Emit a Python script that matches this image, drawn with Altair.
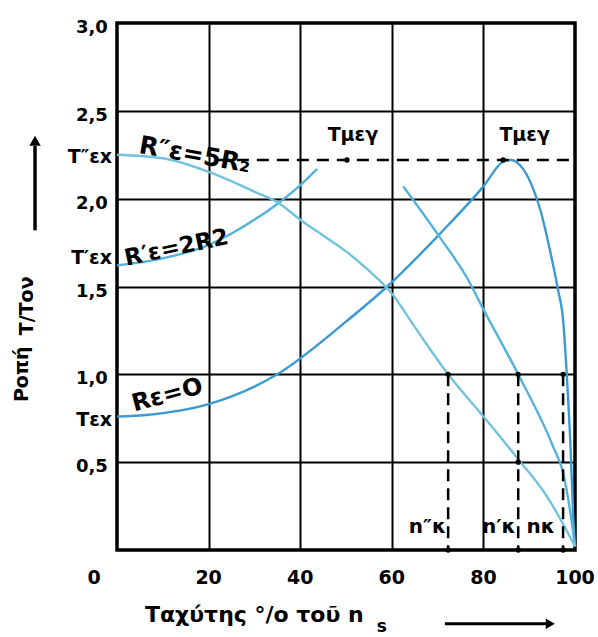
import altair as alt
import pandas as pd

# ---- curve data (speed % of n_s, T/Ton) ----
re0_x = [0, 7, 20, 35, 50, 59, 70.5, 80, 84.3, 86.0, 88.0, 90.5, 92.5, 94.5, 96.3, 97.4, 98.2, 99, 99.6, 100]
re0_y = [0.76, 0.77, 0.83, 1.0, 1.3, 1.5, 1.8, 2.07, 2.21, 2.22, 2.19, 2.08, 1.93, 1.71, 1.48, 1.31, 1.0, 0.6, 0.2, 0.02]

r2a_x = [0, 10, 20.3, 30, 35, 39.3, 43.7]
r2a_y = [1.62, 1.66, 1.74, 1.88, 1.97, 2.06, 2.17]
r2b_x = [62.5, 70.5, 76.4, 80, 87.6, 95.2, 97.4, 99.6, 100]
r2b_y = [2.07, 1.78, 1.55, 1.37, 1.0, 0.59, 0.44, 0.1, 0.02]

r5_x = [0, 10, 20.3, 30, 35.6, 40, 45, 50, 55, 60, 65, 72.3, 80, 87.5, 94, 99, 100]
r5_y = [2.25, 2.23, 2.15, 2.04, 1.97, 1.88, 1.79, 1.7, 1.59, 1.46, 1.27, 1.0, 0.76, 0.52, 0.3, 0.07, 0.02]

t_max = 2.22
tmax_x = [50.2, 84.3]
nk_x = [72.3, 87.6, 97.4]
nk_labels = ["n″κ", "n′κ", "nκ"]
nk_label_x = [67.8, 83.4, 92.5]

x_ticks = [0, 20, 40, 60, 80, 100]
x_tick_labels = ["0", "20", "40", "60", "80", "100"]
y_ticks = [3.0, 2.5, 2.0, 1.5, 1.0, 0.5]
y_tick_labels = ["3,0", "2,5", "2,0", "1,5", "1,0", "0,5"]
start_labels = ["T″εx", "T′εx", "Tεx"]
start_vals = [2.24, 1.66, 0.74]

rows = []
for name, xs, ys in [("re0", re0_x, re0_y), ("r2a", r2a_x, r2a_y),
                     ("r2b", r2b_x, r2b_y), ("r5", r5_x, r5_y)]:
    for i, (a, b) in enumerate(zip(xs, ys)):
        rows.append({"seg": name, "x": a, "y": b, "o": i})
curves = pd.DataFrame(rows)

X = alt.Scale(domain=[0, 100], nice=False, zero=False)
Y = alt.Scale(domain=[0, 3], nice=False, zero=False)

base_axis_x = alt.Axis(values=[20, 40, 60, 80], labels=False, ticks=False, domain=False,
                       grid=True, gridColor="black", gridWidth=2, gridOpacity=1, title=None)
base_axis_y = alt.Axis(values=[0.5, 1.0, 1.5, 2.0, 2.5], labels=False, ticks=False, domain=False,
                       grid=True, gridColor="black", gridWidth=2, gridOpacity=1, title=None)

lines = alt.Chart(curves).mark_line(interpolate="monotone", strokeWidth=2.4).encode(
    x=alt.X("x:Q", scale=X, axis=base_axis_x),
    y=alt.Y("y:Q", scale=Y, axis=base_axis_y),
    detail="seg:N",
    order="o:Q",
    color=alt.Color("seg:N", legend=None,
                    scale=alt.Scale(domain=["re0", "r2a", "r2b", "r5"],
                                    range=["#3b9bd0", "#55b3da", "#55b3da", "#72c3df"])),
)

# dashed Tmax line
hdash = alt.Chart(pd.DataFrame({"x": [21.8], "x2": [100], "y": [t_max]})).mark_rule(
    color="black", strokeWidth=2.5, strokeDash=[12, 8]).encode(
    x=alt.X("x:Q", scale=X), x2="x2:Q", y=alt.Y("y:Q", scale=Y))

# dashed vertical lines at n_k
vdash = alt.Chart(pd.DataFrame({"x": nk_x, "y": [1.0] * 3, "y2": [0.0] * 3})).mark_rule(
    color="black", strokeWidth=2.5, strokeDash=[12, 7]).encode(
    x=alt.X("x:Q", scale=X), y=alt.Y("y:Q", scale=Y), y2="y2:Q")

dots = alt.Chart(pd.DataFrame({
    "x": tmax_x + nk_x + nk_x + [87.6],
    "y": [t_max, t_max] + [1.0] * 3 + [0.0] * 3 + [0.5]})).mark_circle(
    color="black", size=28, opacity=1).encode(x=alt.X("x:Q", scale=X), y=alt.Y("y:Q", scale=Y))

FONT = "DejaVu Sans"

def texts(df, size=18, align="center", angle=0, baseline="middle", dx=0, dy=0, weight="bold"):
    kw = dict(font=FONT, fontSize=size, align=align, baseline=baseline, color="black",
              dx=dx, dy=dy, fontWeight=weight)
    if angle:
        kw["angle"] = angle
    return alt.Chart(df).mark_text(**kw).encode(
        x=alt.X("x:Q", scale=X), y=alt.Y("y:Q", scale=Y), text="t:N")

xt = texts(pd.DataFrame({"x": [-5.0] + x_ticks[1:], "y": [-0.16] * 6, "t": x_tick_labels}), size=19)
yt = texts(pd.DataFrame({"x": [-2.0] * 6, "y": y_ticks, "t": y_tick_labels}), size=18,
           align="right", dy=5)
st = texts(pd.DataFrame({"x": [-1.1] * 3, "y": start_vals, "t": start_labels}), size=19, align="right")

tm = texts(pd.DataFrame({"x": [51.5, 89.0], "y": [2.36, 2.36], "t": ["Tμεγ", "Tμεγ"]}), size=19)
nk = texts(pd.DataFrame({"x": nk_label_x, "y": [0.13] * 3, "t": nk_labels}), size=20)

lab5 = texts(pd.DataFrame({"x": [17.0], "y": [2.25], "t": ["R″ε=5R₂"]}), size=25, angle=10)
lab2 = texts(pd.DataFrame({"x": [13.0], "y": [1.72], "t": ["R′ε=2R2"]}), size=23, angle=348)
lab0 = texts(pd.DataFrame({"x": [11.0], "y": [0.88], "t": ["Rε=O"]}), size=24, angle=345)

xtitle = texts(pd.DataFrame({"x": [6.1], "y": [-0.37], "t": ["Ταχύτης °/ο τοῦ n"]}), size=22, align="left")
xsub = texts(pd.DataFrame({"x": [57.8], "y": [-0.44], "t": ["s"]}), size=17)
ytitle1 = texts(pd.DataFrame({"x": [-20.7], "y": [1.0], "t": ["Ροπή"]}), size=19, angle=270)
ytitle2 = texts(pd.DataFrame({"x": [-19.7], "y": [1.39], "t": ["T/Τον"]}), size=19, angle=270)

xarrow = alt.Chart(pd.DataFrame({"x": [71.6], "x2": [94.0], "y": [-0.42]})).mark_rule(
    color="black", strokeWidth=3).encode(x=alt.X("x:Q", scale=X), x2="x2:Q", y=alt.Y("y:Q", scale=Y))
xhead = alt.Chart(pd.DataFrame({"x": [94.6], "y": [-0.42]})).mark_point(
    shape="triangle-right", filled=True, color="black", size=110, opacity=1).encode(
    x=alt.X("x:Q", scale=X), y=alt.Y("y:Q", scale=Y))
yarrow = alt.Chart(pd.DataFrame({"x": [-17.9], "y": [1.82], "y2": [2.3]})).mark_rule(
    color="black", strokeWidth=3.5).encode(x=alt.X("x:Q", scale=X), y=alt.Y("y:Q", scale=Y), y2="y2:Q")
yhead = alt.Chart(pd.DataFrame({"x": [-17.9], "y": [2.33]})).mark_point(
    shape="triangle-up", filled=True, color="black", size=130, opacity=1).encode(
    x=alt.X("x:Q", scale=X), y=alt.Y("y:Q", scale=Y))

chart = alt.layer(
    lines, hdash, vdash, dots, xt, yt, st, tm, nk, lab5, lab2, lab0,
    xtitle, xsub, ytitle1, ytitle2, xarrow, xhead, yarrow, yhead
).properties(
    width=458, height=527,
    autosize=alt.AutoSizeParams(type="none"),
    padding={"left": 117, "top": 23, "right": 23, "bottom": 87},
    background="white",
).configure_view(stroke="black", strokeWidth=3.5)

chart.save("out.html", embed_options={"renderer": "svg", "actions": False})
